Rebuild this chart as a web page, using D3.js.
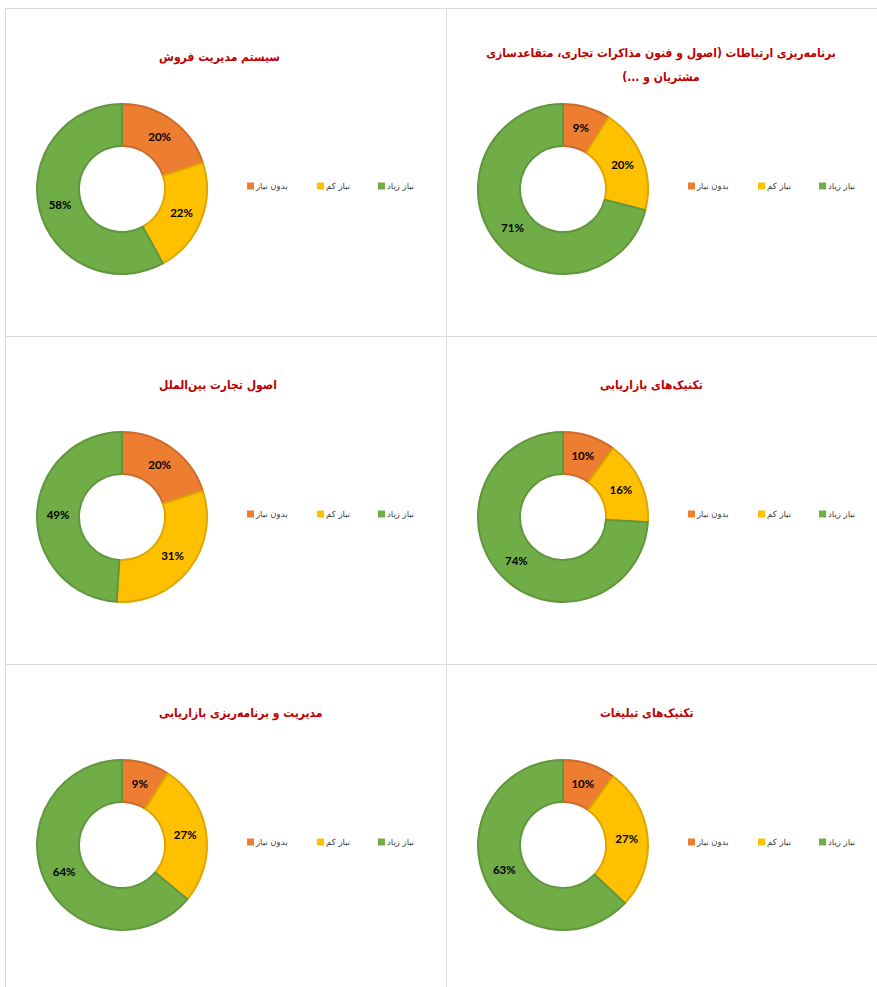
<!DOCTYPE html>
<html><head><meta charset="utf-8">
<script src="https://cdn.jsdelivr.net/npm/d3@7"></script>
<style>body{margin:0;background:#fff}</style></head><body>
<svg id="c" width="877" height="987"></svg>
<script>
const categories = ["بدون نیاز", "نیاز کم", "نیاز زیاد"];
const colors = ["#ED7D31", "#FFC000", "#70AD47"];

const titleCommunication = ["برنامه‌ریزی ارتباطات (اصول و فنون مذاکرات تجاری، متقاعدسازی", "مشتریان و ...)"];
const titleSalesSystem = ["سیستم مدیریت فروش"];
const titleMarketingTech = ["تکنیک‌های بازاریابی"];
const titleIntlTrade = ["اصول تجارت بین‌الملل"];
const titleAdvertising = ["تکنیک‌های تبلیغات"];
const titleMarketingMgmt = ["مدیریت و برنامه‌ریزی بازاریابی"];

const valuesCommunication = [9, 20, 71];
const valuesSalesSystem = [20, 22, 58];
const valuesMarketingTech = [10, 16, 74];
const valuesIntlTrade = [20, 31, 49];
const valuesAdvertising = [10, 27, 63];
const valuesMarketingMgmt = [9, 27, 64];

const panels = [
  {title: titleCommunication, values: valuesCommunication, col: 1, row: 0},
  {title: titleSalesSystem, values: valuesSalesSystem, col: 0, row: 0},
  {title: titleMarketingTech, values: valuesMarketingTech, col: 1, row: 1},
  {title: titleIntlTrade, values: valuesIntlTrade, col: 0, row: 1},
  {title: titleAdvertising, values: valuesAdvertising, col: 1, row: 2},
  {title: titleMarketingMgmt, values: valuesMarketingMgmt, col: 0, row: 2}
];

const svg = d3.select("#c");
const colX = [5, 446], rowY = [8, 336, 664];
const gridColor = "#d9d9d9";

[8, 336, 664].forEach(y => svg.append("line").attr("x1", 5).attr("x2", 877).attr("y1", y + 0.5).attr("y2", y + 0.5).attr("stroke", gridColor));
[5, 446].forEach(x => svg.append("line").attr("x1", x + 0.5).attr("x2", x + 0.5).attr("y1", 8).attr("y2", 987).attr("stroke", gridColor));

const color = d3.scaleOrdinal().domain(categories).range(colors);
const pie = d3.pie().sort(null).value(d => d.v);
const rOuter = 85, rInner = 43;
const arc = d3.arc().innerRadius(rInner).outerRadius(rOuter);

const tf = "'DejaVu Sans Condensed', 'DejaVu Sans', sans-serif";
panels.forEach(p => {
  const x0 = colX[p.col], y0 = rowY[p.row];
  const g = svg.append("g");
  if (p.title.length > 1) {
    p.title.forEach((line, i) => {
      const t = g.append("text").attr("x", x0 + 215).attr("y", y0 + 49 + i * 24)
        .attr("text-anchor", "middle").attr("direction", "rtl")
        .attr("font-family", tf).attr("font-weight", "bold").attr("font-size", 12)
        .attr("fill", "#C00000").text(line);
    });
  } else {
    const t = g.append("text").attr("x", x0 + 220).attr("y", y0 + 53)
      .attr("text-anchor", "middle").attr("direction", "rtl")
      .attr("font-family", tf).attr("font-weight", "bold").attr("font-size", 12)
      .attr("fill", "#C00000").text(p.title[0]);
    const bb = t.node().getBBox();
    t.attr("x", x0 + 220 + (x0 + 154 - bb.x));
  }
  const data = p.values.map((v, i) => ({c: categories[i], v}));
  const dg = g.append("g").attr("transform", `translate(${x0 + 117},${y0 + 181})`);
  const arcs = pie(data);
  dg.selectAll("path").data(arcs).join("path")
    .attr("d", arc)
    .attr("fill", d => color(d.data.c))
    .attr("stroke", d => d3.color(color(d.data.c)).darker(0.4))
    .attr("stroke-width", 2)
    .attr("stroke-linejoin", "round");
  dg.selectAll("text").data(arcs).join("text")
    .attr("transform", d => `translate(${arc.centroid(d)})`)
    .attr("text-anchor", "middle").attr("dy", "0.35em")
    .attr("font-family", "Lato, 'Open Sans', sans-serif").attr("font-weight", "bold")
    .attr("font-size", 11.5).attr("fill", "#000")
    .text(d => d.data.v + "%");
  const legX = [242, 312, 373];
  categories.forEach((c, i) => {
    const lx = x0 + legX[i], ly = y0 + 178;
    g.append("rect").attr("x", lx).attr("y", ly - 3.5).attr("width", 7).attr("height", 7).attr("fill", color(c));
    g.append("text").attr("x", lx + 9).attr("y", ly + 3)
      .attr("font-family", "'DejaVu Sans', sans-serif").attr("font-size", 8.5)
      .attr("fill", "#404040").text(c);
  });
});
</script>
</body></html>
